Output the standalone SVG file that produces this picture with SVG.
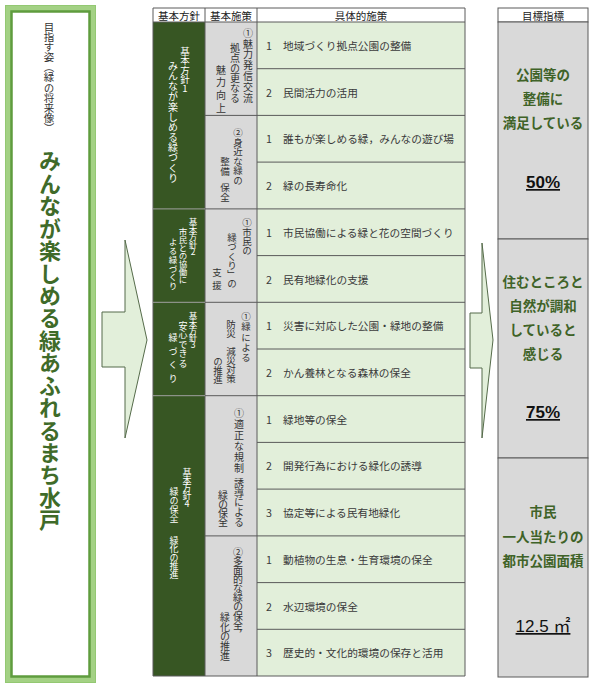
<svg xmlns="http://www.w3.org/2000/svg" width="600" height="688" viewBox="0 0 600 688">
<style>
text{font-family:"Noto Sans CJK JP","Noto Sans",sans-serif;}
.v{writing-mode:vertical-rl;text-orientation:upright;}
.vw{fill:#ffffff;}
.vd{fill:#333333;}
.hd{font-size:10.5px;fill:#222;text-anchor:middle;dominant-baseline:central;}
.row{font-size:10.7px;fill:#3a3a3a;dominant-baseline:central;}
.c1{fill:#375623;}
.c2{fill:#d9d9d9;}
.c3{fill:#e2efda;}
.grid{stroke:#5a5a5a;stroke-width:1;fill:none;}
.tg{font-size:13.5px;font-weight:bold;fill:#3f6328;text-anchor:middle;dominant-baseline:central;}
.val{font-size:17px;fill:#111;text-anchor:middle;text-decoration:underline;font-family:"Liberation Sans","Noto Sans CJK JP",sans-serif;}
.arrow{fill:#e2efda;stroke:#556b4a;stroke-width:1;}
</style>

<g id="vision">
  <rect x="5.5" y="5.5" width="90" height="677" fill="#a3d184" stroke="#93c872" stroke-width="1"/>
  <rect x="11.5" y="11.5" width="78" height="665" fill="#ffffff" stroke="#5f9c3e" stroke-width="2.5"/>
  <text class="v" x="49" y="22" font-size="10.5" fill="#333" textLength="111" lengthAdjust="spacing">目指す姿（緑の将来像）</text>
  <text class="v" x="50" y="150" font-size="22" font-weight="bold" fill="#3f6b29" textLength="381" lengthAdjust="spacing">みんなが楽しめる緑あふれるまち水戸</text>
</g>

<g id="connectors">
  <polygon class="arrow" points="102,312 125,312 125,240 147,340 125,438 125,367 102,367"/>
  <polygon class="arrow" points="470,313 482,313 482,243 493,340 482,438 482,368 470,368"/>
</g>

<g id="table-header">
  <rect x="153" y="8" width="312" height="14" fill="#ffffff"/>
  <text class="hd" x="179" y="15">基本方針</text>
  <text class="hd" x="231" y="15">基本施策</text>
  <text class="hd" x="361" y="15">具体的施策</text>
</g>

<g id="table-body">
  <rect class="c1" x="153" y="22" width="52" height="654"/>
  <rect class="c2" x="205" y="22" width="52" height="654"/>
  <rect class="c3" x="257" y="22" width="208" height="654"/>
  <g class="grid">
    <path d="M257,68.7H465M257,115.4H465M257,162.1H465M257,208.9H465M257,255.6H465M257,302.3H465M257,349H465M257,395.7H465M257,442.4H465M257,489.1H465M257,535.9H465M257,582.6H465M257,629.3H465"/>
    <path d="M205,115.4H257M205,208.9H257M205,302.3H257M205,395.7H257M205,535.9H257"/>
    <path d="M153,8V676M205,8V676M257,8V676M465,8V676M153,8H465M153,22H465M153,676H465"/>
  </g>
  <path d="M153,208.9H205M153,302.3H205M153,395.7H205" stroke="#a0a0a0" stroke-width="1" fill="none"/>
</g>

<g id="policy1">
  <text class="v vw" x="185" y="47" font-size="9.5" textLength="46" lengthAdjust="spacing">基本方針1</text>
  <text class="v vw" x="173" y="61" font-size="10" textLength="122" lengthAdjust="spacing">みんなが楽しめる緑づくり</text>
  <text class="v vd" x="248" y="28" font-size="10" textLength="75" lengthAdjust="spacing">①魅力発信交流</text>
  <text class="v vd" x="235" y="43" font-size="10" textLength="60" lengthAdjust="spacing">拠点の更なる</text>
  <text class="v vd" x="221" y="65" font-size="10" textLength="48" lengthAdjust="spacing">魅力向上</text>
  <text class="v vd" x="238" y="128" font-size="9.5" textLength="57" lengthAdjust="spacing">②身近な緑の</text>
  <text class="v vd" x="225" y="157" font-size="9.5" textLength="19" lengthAdjust="spacing">整備</text>
  <text class="v vd" x="225" y="183" font-size="9.5" textLength="19" lengthAdjust="spacing">保全</text>
  <text class="row" x="266" y="45.4">1</text><text class="row" x="283" y="45.4">地域づくり拠点公園の整備</text>
  <text class="row" x="266" y="92.1">2</text><text class="row" x="283" y="92.1">民間活力の活用</text>
  <text class="row" x="266" y="138.8">1</text><text class="row" x="283" y="138.8">誰もが楽しめる緑，みんなの遊び場</text>
  <text class="row" x="266" y="185.5">2</text><text class="row" x="283" y="185.5">緑の長寿命化</text>
</g>

<g id="policy2">
  <text class="v vw" x="193" y="218" font-size="8.5" textLength="38" lengthAdjust="spacing">基本方針2</text>
  <text class="v vw" x="183" y="228" font-size="8.5" textLength="56" lengthAdjust="spacing">市民との協働に</text>
  <text class="v vw" x="173" y="238" font-size="8.5" textLength="52" lengthAdjust="spacing">よる緑づくり</text>
  <text class="v vd" x="247" y="218" font-size="9.5" textLength="37" lengthAdjust="spacing">①市民の</text>
  <text class="v vd" x="232" y="233" font-size="9.5" textLength="55" lengthAdjust="spacing">緑づくり」の</text>
  <text class="v vd" x="217" y="268" font-size="9.5" textLength="22" lengthAdjust="spacing">支援</text>
  <text class="row" x="266" y="232.2">1</text><text class="row" x="283" y="232.2">市民協働による緑と花の空間づくり</text>
  <text class="row" x="266" y="279">2</text><text class="row" x="283" y="279">民有地緑化の支援</text>
</g>

<g id="policy3">
  <text class="v vw" x="193" y="312" font-size="8.5" textLength="37" lengthAdjust="spacing">基本方針3</text>
  <text class="v vw" x="183" y="321" font-size="9" textLength="47" lengthAdjust="spacing">安心できる</text>
  <text class="v vw" x="173" y="333" font-size="9" textLength="50" lengthAdjust="spacing">緑づくり</text>
  <text class="v vd" x="246" y="312" font-size="9.5" textLength="50" lengthAdjust="spacing">①緑による</text>
  <text class="v vd" x="231" y="320" font-size="9.5" textLength="18" lengthAdjust="spacing">防災</text>
  <text class="v vd" x="231" y="347" font-size="9.5" textLength="36" lengthAdjust="spacing">減災対策</text>
  <text class="v vd" x="218" y="357" font-size="9.5" textLength="27" lengthAdjust="spacing">の推進</text>
  <text class="row" x="266" y="325.7">1</text><text class="row" x="283" y="325.7">災害に対応した公園・緑地の整備</text>
  <text class="row" x="266" y="372.4">2</text><text class="row" x="283" y="372.4">かん養林となる森林の保全</text>
</g>

<g id="policy4">
  <text class="v vw" x="187" y="468" font-size="9" textLength="40" lengthAdjust="spacing">基本方針4</text>
  <text class="v vw" x="174" y="487" font-size="9" textLength="36" lengthAdjust="spacing">緑の保全</text>
  <text class="v vw" x="174" y="536" font-size="9" textLength="43" lengthAdjust="spacing">緑化の推進</text>
  <text class="v vd" x="239" y="408" font-size="10" textLength="65" lengthAdjust="spacing">①適正な規制</text>
  <text class="v vd" x="239" y="478" font-size="10" textLength="49" lengthAdjust="spacing">誘導による</text>
  <text class="v vd" x="223" y="490" font-size="10" textLength="37" lengthAdjust="spacing">緑の保全</text>
  <text class="v vd" x="238" y="547" font-size="10" textLength="92" lengthAdjust="spacing">②多面的な緑の保全，</text>
  <text class="v vd" x="225" y="612" font-size="10" textLength="49" lengthAdjust="spacing">緑化の推進</text>
  <text class="row" x="266" y="419.1">1</text><text class="row" x="283" y="419.1">緑地等の保全</text>
  <text class="row" x="266" y="465.8">2</text><text class="row" x="283" y="465.8">開発行為における緑化の誘導</text>
  <text class="row" x="266" y="512.5">3</text><text class="row" x="283" y="512.5">協定等による民有地緑化</text>
  <text class="row" x="266" y="559.2">1</text><text class="row" x="283" y="559.2">動植物の生息・生育環境の保全</text>
  <text class="row" x="266" y="606">2</text><text class="row" x="283" y="606">水辺環境の保全</text>
  <text class="row" x="266" y="652.7">3</text><text class="row" x="283" y="652.7">歴史的・文化的環境の保存と活用</text>
</g>

<g id="targets">
  <rect x="498" y="8" width="90" height="14" fill="#ffffff" stroke="#5a5a5a"/>
  <text class="hd" x="543" y="15">目標指標</text>
  <rect x="498" y="22" width="90" height="217" fill="#d9d9d9" stroke="#5a5a5a"/>
  <rect x="498" y="239" width="90" height="219" fill="#d9d9d9" stroke="#5a5a5a"/>
  <rect x="498" y="458" width="90" height="219" fill="#d9d9d9" stroke="#5a5a5a"/>
  <text class="tg" x="543" y="74">公園等の</text>
  <text class="tg" x="543" y="98">整備に</text>
  <text class="tg" x="543" y="122">満足している</text>
  <text class="val" x="543" y="188" font-weight="bold">50%</text>
  <text class="tg" x="543" y="281">住むところと</text>
  <text class="tg" x="543" y="305">自然が調和</text>
  <text class="tg" x="543" y="329">していると</text>
  <text class="tg" x="543" y="353">感じる</text>
  <text class="val" x="543" y="418" font-weight="bold">75%</text>
  <text class="tg" x="543" y="511">市民</text>
  <text class="tg" x="543" y="536">一人当たりの</text>
  <text class="tg" x="543" y="560">都市公園面積</text>
  <text class="val" x="543" y="632">12.5 ㎡</text>
</g>
</svg>
